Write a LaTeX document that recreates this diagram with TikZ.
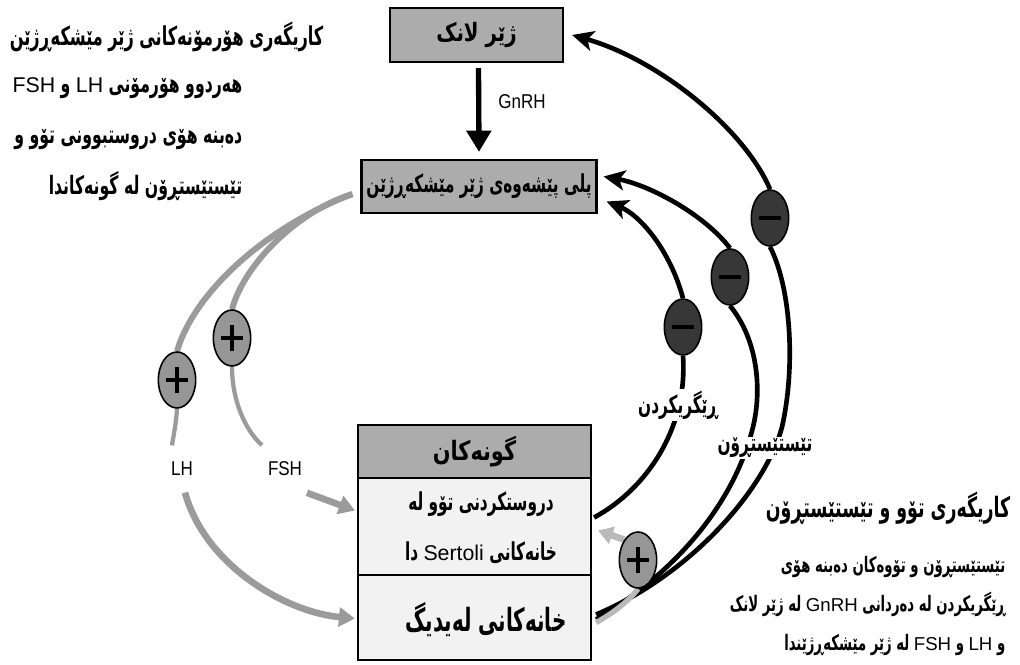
\documentclass[tikz,border=0pt]{standalone}
\usepackage{fontspec}
\usetikzlibrary{arrows.meta,calc,shapes.geometric,backgrounds}
\TeXXeTstate=1
\newfontfamily\ku[Script=Arabic,FakeStretch=0.62]{DejaVu Sans}
\newfontfamily\kw[Script=Arabic,FakeStretch=0.78]{DejaVu Sans}
\newfontfamily\lat{Liberation Sans}
\newfontfamily\latn[FakeStretch=0.85]{Liberation Sans}
\definecolor{boxgray}{RGB}{172,172,172}
\definecolor{cellgray}{RGB}{242,242,242}
\definecolor{plusgray}{RGB}{150,150,150}
\definecolor{arcgray}{RGB}{155,155,155}
\definecolor{lightarc}{RGB}{185,185,185}
\definecolor{minusfill}{RGB}{55,55,55}
\begin{document}
\begin{tikzpicture}[x=0.75pt,y=-0.75pt,
  box/.style={draw=black,line width=1.6pt,fill=boxgray,inner sep=0pt},
  cell/.style={draw=black,line width=1.6pt,fill=cellgray,inner sep=0pt,minimum width=174.75pt},
  pl/.style={ellipse,draw=black,line width=1.2pt,fill=plusgray,minimum width=28pt,minimum height=42pt,inner sep=0pt,
    path picture={\draw[line width=2.8pt] ([xshift=-8pt]path picture bounding box.center) -- ([xshift=8pt]path picture bounding box.center);
                  \draw[line width=2.8pt] ([yshift=-10pt]path picture bounding box.center) -- ([yshift=10pt]path picture bounding box.center);}},
  mi/.style={ellipse,draw=black,line width=1.2pt,fill=minusfill,minimum width=28pt,minimum height=42pt,inner sep=0pt,
    path picture={\draw[line width=3pt,black] ([xshift=-8pt]path picture bounding box.center) -- ([xshift=8pt]path picture bounding box.center);}},
  garc/.style={draw=arcgray,line width=4.5pt},
  garc2/.style={draw=arcgray,line width=3.2pt},
  garrow/.style={draw=arcgray,line width=5pt,-{Triangle[length=12pt,width=14pt]}},
  barc/.style={draw=black,line width=3.5pt},
  barrow/.style={barc,-{Stealth[length=16pt,width=15pt,inset=4pt]}},
  lab/.style={font=\latn\fontsize{15}{17}\selectfont},
  klab/.style={font=\ku\bfseries\fontsize{18.5}{20}\selectfont,fill=white,inner sep=1pt}
]
\useasboundingbox (0,0) rectangle (1020,664);

% boxes
\node[box,minimum width=129.75pt,minimum height=40.5pt,font=\kw\bfseries\fontsize{19}{21}\selectfont] (b1) at (476.5,35) {\beginR ژێر لانک\endR};
\node[box,minimum width=176.25pt,minimum height=39.75pt,font=\ku\bfseries\fontsize{18.5}{21}\selectfont] (b2) at (479,186.5) {\beginR پلی پێشەوەی ژێر مێشکەڕژێن\endR};
\node[box,minimum width=174.75pt,minimum height=39.75pt,font=\kw\bfseries\fontsize{20}{22}\selectfont] (gon) at (474.5,451.5) {\beginR گونەکان\endR};
\node[cell,minimum height=72.75pt] (sert) at (474.5,526.5) {};
\node[cell,minimum height=63.75pt] (leyd) at (474.5,617.5) {};
\node[align=center,font=\ku\bfseries\fontsize{18.5}{37.5}\selectfont] (serttxt) at (481,528)
  {\beginR دروستکردنی تۆو لە\endR\\ \beginR خانەکانی {\lat\mdseries\fontsize{16}{37.5}\selectfont\beginL Sertoli\endL} دا\endR};
\node[font=\ku\bfseries\fontsize{24}{26}\selectfont] (leydtxt) at (486,620) {\beginR خانەکانی لەیدیگ\endR};

% GnRH arrow
\node[lab] (gnrh) at (522,102) {GnRH};
\draw[line width=4pt,-{Triangle[length=16pt,width=18pt]}] ($(b1.south)+(2,5)$) -- ($(b2.north)+(0,-7)$);

% ellipses
\node[pl] (lhp) at (177,380) {};
\node[pl] (fshp) at (232,338) {};
\node[pl] (tp) at (638,560) {};
\node[mi] (ma) at (770,218) {};
\node[mi] (mb) at (730,277) {};
\node[mi] (mc) at (683,327) {};

% labels
\node[lab] (lhlab) at (182,469) {LH};
\node[lab] (fshlab) at (285,469) {FSH};
\node[klab] (inh) at (678,405) {\beginR ڕێگریکردن\endR};
\node[klab] (testo) at (765,448) {\beginR تێستێستڕۆن\endR};

% text blocks
\node[anchor=east,font=\ku\bfseries\fontsize{19.5}{24}\selectfont] (t1) at (328,37) {\beginR کاریگەری هۆرمۆنەکانی ژێر مێشکەڕژێن\endR};
\node[anchor=east,align=right,font=\ku\bfseries\fontsize{19}{38}\selectfont] (t2) at (247,139)
  {\beginR هەردوو هۆرمۆنی {\lat\mdseries\fontsize{16}{38}\selectfont\beginL LH\endL} و {\lat\mdseries\fontsize{16}{38}\selectfont\beginL FSH\endL}\endR\\
   \beginR دەبنە هۆی دروستبوونی تۆو و\endR\\
   \beginR تێستێستڕۆن لە گونەکاندا\endR};
\node[anchor=east,font=\ku\bfseries\fontsize{21}{24}\selectfont] (t3) at (1015,508) {\beginR کاریگەری تۆو و تێستێستڕۆن\endR};
\node[anchor=east,align=right,font=\ku\bfseries\fontsize{16}{29}\selectfont] (t4) at (1010,606)
  {\beginR تێستێستڕۆن و تۆوەکان دەبنە هۆی\endR\\
   \beginR ڕێگریکردن لە دەردانی {\lat\mdseries\fontsize{14}{29}\selectfont\beginL GnRH\endL} لە ژێر لانک\endR\\
   \beginR و {\lat\mdseries\fontsize{14}{29}\selectfont\beginL LH\endL} و {\lat\mdseries\fontsize{14}{29}\selectfont\beginL FSH\endL} لە ژێر مێشکەڕژێندا\endR};

\begin{pgfonlayer}{background}
% gray stimulation arcs (left)
\coordinate (gs) at ($(b2.south west)+(-8,-20)$);
\draw[garc] (gs) .. controls (270,225) and (195,290) .. (lhp.north);
\draw[garc] (gs) .. controls (300,210) and (245,262) .. (fshp.north);
\draw[garc2] (lhp.south) .. controls (176,425) and (173,438) .. ($(lhlab.north)+(-10,-12)$);
\draw[garc2] (fshp.south) .. controls (232,400) and (245,430) .. ($(fshlab.north)+(-23,-12)$);
\draw[garrow] ($(fshlab.south)+(22,12)$) -- ($(sert.west)+(-2,-16)$);
\draw[garrow] ($(lhlab.south)+(3,12)$) .. controls (205,565) and (285,612) .. ($(leyd.west)+(-2,1)$);

% black inhibition arcs (right)
\draw[barc] ($(leyd.east)+(4,-3)$) .. controls (690,575) and (765,490) .. (782,427) .. controls (795,370) and (792,290) .. (ma.south);
\draw[barrow] (ma.north) .. controls (745,130) and (660,60) .. ($(b1.east)+(8,0)$);
\draw[barc] ($(leyd.east)+(4,2)$) .. controls (680,570) and (735,500) .. (753,427) .. controls (762,390) and (758,340) .. (mb.south);
\draw[barrow] (mb.north) .. controls (705,215) and (650,185) .. ($(b2.east)+(6,-10)$);
\draw[barc] ($(sert.east)+(2,-9)$) .. controls (645,490) and (688,430) .. (mc.south);
\draw[barrow] (mc.north) .. controls (670,250) and (640,215) .. ($(b2.east)+(9,15)$);

% testosterone -> Sertoli
\draw[draw=lightarc,line width=4pt] ($(leyd.east)+(4,5)$) .. controls (612,614) and (630,600) .. (tp.south);
\draw[draw=lightarc,line width=5pt,-{Triangle[length=11pt,width=13pt]}] (tp.north west) -- ($(sert.east)+(6,4)$);
\end{pgfonlayer}
\end{tikzpicture}
\end{document}
